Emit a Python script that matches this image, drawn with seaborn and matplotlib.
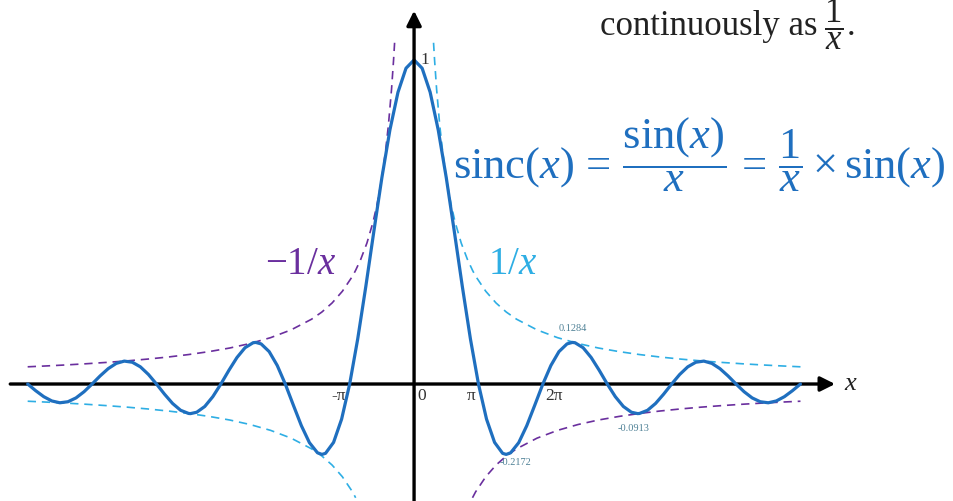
import numpy as np
import pandas as pd
import matplotlib
matplotlib.use("Agg")
import matplotlib.pyplot as plt
import seaborn as sns

# sinc(x) values on a pi/8 grid for x >= 0 (the curve is even)
sinc_half = [1.0, 0.9745, 0.9003, 0.7842, 0.6366, 0.4705, 0.3001, 0.1392, 0.0,
             -0.1083, -0.1801, -0.2139, -0.2122, -0.1810, -0.1286, -0.0650, 0.0,
             0.0573, 0.1000, 0.1238, 0.1273, 0.1120, 0.0818, 0.0424, 0.0,
             -0.0390, -0.0693, -0.0871, -0.0909, -0.0811, -0.0600, -0.0314, 0.0,
             0.0295, 0.0530, 0.0672, 0.0707, 0.0636, 0.0474, 0.0250, 0.0,
             -0.0238, -0.0429, -0.0547, -0.0579, -0.0523, -0.0391, -0.0207, 0.0]

# labelled extrema of sinc(x) for x > 0
extrema_x = [4.4934, 7.7253, 10.9041]
extrema_y = [-0.2172, 0.1284, -0.0913]
extrema_text = ["-0.2172", "0.1284", "-0.0913"]

# envelope 1/x for x > 0
env_x = [0.95, 1.0, 1.1, 1.25, 1.4, 1.6, 1.8, 2.0, 2.3, 2.6, 2.85, 3.0, 3.5, 4.0,
         4.5, 5.0, 6.0, 7.0, 8.0, 9.0, 10.0, 11.0, 12.0, 13.0, 14.0, 15.0, 16.0,
         17.0, 18.0, 18.85]
env_y = [1.053, 1.0, 0.909, 0.8, 0.714, 0.625, 0.556, 0.5, 0.435, 0.385, 0.351,
         0.333, 0.286, 0.25, 0.222, 0.2, 0.167, 0.143, 0.125, 0.111, 0.1, 0.0909,
         0.0833, 0.0769, 0.0714, 0.0667, 0.0625, 0.0588, 0.0556, 0.0531]

tick_labels = ["-\u03c0", "0", "\u03c0", "2\u03c0"]
tick_label_x = [-3.7, 0.37, 2.78, 6.83]

SINC = "#1f6fbf"
LIGHT = "#2eaee4"
PURPLE = "#6a2f9e"
NOTE = "#4f8196"

# --- assemble the sinc series --------------------------------------------
grid = np.arange(len(sinc_half)) * np.pi / 8
pos = pd.DataFrame({"x": np.concatenate([grid, extrema_x]),
                    "y": np.concatenate([sinc_half, extrema_y])}).sort_values("x")
neg = pos.iloc[1:].assign(x=lambda d: -d["x"])
sinc_df = pd.concat([neg, pos]).sort_values("x").reset_index(drop=True)

ex = np.array(env_x)
ey = np.array(env_y)
low = ex >= 2.85
inv_pos = pd.DataFrame({"x": ex, "y": ey})             # 1/x, x > 0
inv_neg = pd.DataFrame({"x": -ex[low], "y": -ey[low]})  # 1/x, x < 0
ninv_neg = pd.DataFrame({"x": -ex, "y": ey})           # -1/x, x < 0
ninv_pos = pd.DataFrame({"x": ex[low], "y": -ey[low]})  # -1/x, x > 0

sns.set_theme(style="white")
plt.rcParams["font.family"] = ["Liberation Serif", "DejaVu Serif"]
plt.rcParams["mathtext.fontset"] = "custom"
plt.rcParams["mathtext.rm"] = "Liberation Serif"
plt.rcParams["mathtext.it"] = "Liberation Serif:italic"

fig = plt.figure(figsize=(9.54, 5.01), dpi=100)
ax = fig.add_axes([0, 0, 1, 1])
ax.set_xlim(-20.2, 26.34)
ax.set_ylim(-0.361, 1.185)
ax.axis("off")

dash = dict(linewidth=1.2, dashes=(5, 3.5), legend=False)
for df in (inv_pos, inv_neg):
    sns.lineplot(data=df, x="x", y="y", ax=ax, color=LIGHT, sort=True,
                 zorder=2, **dash)
for df in (ninv_neg, ninv_pos):
    sns.lineplot(data=df, x="x", y="y", ax=ax, color=PURPLE, sort=True,
                 zorder=2, **dash)

# axes arrows
arrow = dict(arrowstyle="-|>", lw=2.4, color="black", mutation_scale=22,
             shrinkA=0, shrinkB=0)
ax.annotate("", xy=(20.54, 0), xytext=(-19.7, 0), arrowprops=arrow, zorder=3)

sns.lineplot(data=sinc_df, x="x", y="y", ax=ax, color=SINC, linewidth=2.3,
             sort=False, legend=False, zorder=4)

ax.annotate("", xy=(0, 1.152), xytext=(0, -0.4), arrowprops=arrow, zorder=5)

# tick labels on the x axis
for lab, lx in zip(tick_labels, tick_label_x):
    ax.text(lx, -0.037, lab, ha="center", va="center", fontsize=12.5,
            color="#333333")
ax.text(0.54, 1.0, "1", ha="center", va="center", fontsize=12.5,
        color="#333333")
ax.text(20.95, 0.0, "$x$", ha="left", va="center", fontsize=19, color="#222222")

# extrema values
offsets = [(7, -6), (0, 10), (-3, -11)]
for x0, y0, t, off in zip(extrema_x, extrema_y, extrema_text, offsets):
    ax.annotate(t, xy=(x0, y0), xytext=off, textcoords="offset points",
                ha="center", va="center", fontsize=7.5, color=NOTE)

# formula and envelope names
ax.text(1.9, 0.707, r"$\mathrm{sinc}(x)\,=\,\dfrac{\mathrm{sin}(x)}{x}"
        r"\,=\,\dfrac{1}{x}\times \mathrm{sin}(x)$",
        ha="left", va="center", fontsize=32, color=SINC)
ax.text(-5.56, 0.37, r"$-1/x$", ha="center", va="center", fontsize=28,
        color=PURPLE)
ax.text(4.83, 0.37, r"$1/x$", ha="center", va="center", fontsize=28,
        color=LIGHT)

ax.text(9.07, 1.077, "continuously as", ha="left", va="baseline",
        fontsize=25, color="#222222")
ax.text(20.49, 1.111, r"$\dfrac{1}{x}$", ha="center", va="center",
        fontsize=25, color="#222222")
ax.text(21.1, 1.077, ".", ha="left", va="baseline", fontsize=25,
        color="#222222")

fig.savefig("out.png", dpi=100)
